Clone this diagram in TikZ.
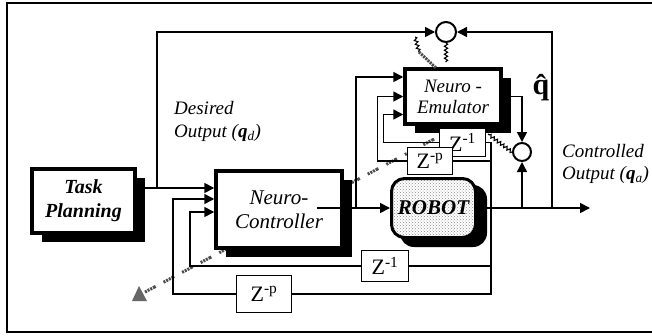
\documentclass[tikz,border=0pt]{standalone}
\usepackage{fontspec}
\setmainfont{Liberation Serif}
\usetikzlibrary{arrows.meta,patterns,decorations.pathmorphing,shadows,calc}

\tikzset{
  base/.style={line width=1.5pt},
  arr/.style={base, -{Triangle[length=10pt,width=10pt]}},
  bigbox/.style={draw, line width=3.5pt, fill=white, inner sep=0pt, align=center,
    font=\fontsize{21}{24}\selectfont\itshape,
    drop shadow={shadow xshift=10pt, shadow yshift=-9pt, opacity=1, fill=black}},
  zbox/.style={draw, line width=1.3pt, fill=white, inner sep=0pt, font=\fontsize{22}{22}\selectfont},
  sumc/.style={circle, draw, line width=2pt, fill=white, inner sep=0pt},
  lbl/.style={font=\fontsize{19}{22}\selectfont\itshape, inner sep=0pt},
  wavy/.style={decorate, decoration={snake, segment length=4pt, amplitude=1.6pt}, line width=1.1pt},
  hatch/.style={line width=3pt, black!70, dash pattern=on 2pt off 1pt on 2pt off 1pt on 2pt off 1pt on 3pt off 9pt},
}

\begin{document}
\begin{tikzpicture}[x=1pt,y=-1pt]
\useasboundingbox (0,0) rectangle (652,335);
\clip (0,0) rectangle (652,335);
\fill[white] (0,0) rectangle (652,335);
% outer frame (right side cut off)
\draw[line width=1.8pt] (7,3) rectangle (700,332);

% diagonal adaptation line (behind boxes)
\coordinate (dtail) at (145,292);
\coordinate (dhead) at (438,137);
\draw[hatch] (dtail) -- (dhead);
\fill[black!60] (132,301) -- (147,301) -- (139,286) -- cycle;

% boxes
\node[bigbox, font=\fontsize{20}{24}\selectfont\bfseries\itshape, minimum width=103, minimum height=64] (tp) at (83.5,201) {Task\\Planning};
\node[bigbox, minimum width=126, minimum height=77] (nc) at (279,209.5) {Neuro-\\Controller};
\node[bigbox, font=\fontsize{19}{21}\selectfont\itshape, minimum width=96, minimum height=55] (ne) at (453,96.5) {Neuro -\\Emulator};
% robot shadow, then robot
\fill[black, rounded corners=14pt] (400,185) rectangle (487,247);
\node[draw, line width=3pt, rounded corners=13pt, minimum width=84, minimum height=59, inner sep=0pt,
      preaction={fill=white}, pattern=crosshatch dots, pattern color=black!45,
      font=\fontsize{21}{21}\selectfont\bfseries\itshape] (robot) at (433.5,208) {ROBOT};

\node[zbox, minimum width=45.5, minimum height=27.5] (z1u) at (462.5,142.5) {Z\textsuperscript{-1}};
\node[zbox, minimum width=44.5, minimum height=26.5] (zpu) at (430,161) {Z\textsuperscript{-p}};
\node[zbox, minimum width=46.5, minimum height=30.5] (z1l) at (385,266) {Z\textsuperscript{-1}};
\node[zbox, minimum width=54.5, minimum height=36.5] (zpl) at (264,294) {Z\textsuperscript{-p}};

\node[sumc, minimum size=20] (c1) at (446,32) {};
\node[sumc, minimum size=18] (c2) at (522,152) {};

% junctions
\coordinate (j1) at (157,188);
\coordinate (ncout) at (317,208);
\coordinate (j5) at (356,208);
\coordinate (j2) at (491,208);
\coordinate (j3) at (522,208);
\coordinate (j4) at (552,208);
\coordinate (qa) at (590,208);

% task planning -> neuro-controller, and desired output to top comparator
\draw[arr] ([yshift=13pt]tp.east) -- (j1) -- (j1 -| nc.west);
\draw[arr] (j1) |- (c1.west);

% delayed feedback into neuro-controller
\draw[arr] (zpl.west) -| (173,199) -- ([yshift=10.5pt]nc.west);
\draw[arr] (z1l.west) -| (190,212) -- ([yshift=-2.5pt]nc.west);

% control signal
\draw[arr] (ncout) -- (robot.west);
\draw[arr] (j5) |- ([yshift=19.5pt]ne.west);

% robot output
\draw[arr] (robot.east) -- (qa);
\draw[base] (j2) |- (zpl.east);
\draw[base] (j2 |- z1l.east) -- (z1l.east);
\draw[base] (j2) |- (z1u.east);
\draw[base] (j2 |- zpu.east) -- (zpu.east);
\draw[arr] (j3) -- (c2.south);
\draw[arr] (j4) |- (c1.east);

% emulator inputs and output
\draw[arr] (zpu.west) -| ([xshift=-26pt]ne.west) -- (ne.west);
\draw[arr] (z1u.west) -| ([xshift=-20pt,yshift=-18pt]ne.west) -- ([yshift=-18pt]ne.west);
\draw[arr] (ne.east) -| (c2.north);

% training signals
\coordinate (w1) at (446,62);
\draw[wavy] (c1.south) -- (w1);
\coordinate (w2a) at (415,37);
\coordinate (w2b) at (419,52);
\coordinate (w2c) at (436,68);
\draw[wavy] (w2a) -- (w2b);
\draw[line width=3pt, black!70, dash pattern=on 2pt off 1pt] (w2b) -- (w2c);
\coordinate (w3) at (488,134);
\draw[wavy] (c2.west) -- (w3);

% labels
\node[lbl, anchor=west] (des) at (174,108) {Desired};
\node[lbl, anchor=west] (dout) at (174,133) {Output (\textbf{\textit{q}}\textsubscript{\textit{d}})};
\node[lbl, anchor=west] (cont) at (562,151) {Controlled};
\node[lbl, anchor=west] (cout) at (562,175) {Output (\textbf{\textit{q}}\textsubscript{\textit{a}})};
\node[inner sep=0pt, font=\fontsize{30}{30}\selectfont\bfseries] (qhat) at (541,88) {\^{q}};
\end{tikzpicture}
\end{document}
